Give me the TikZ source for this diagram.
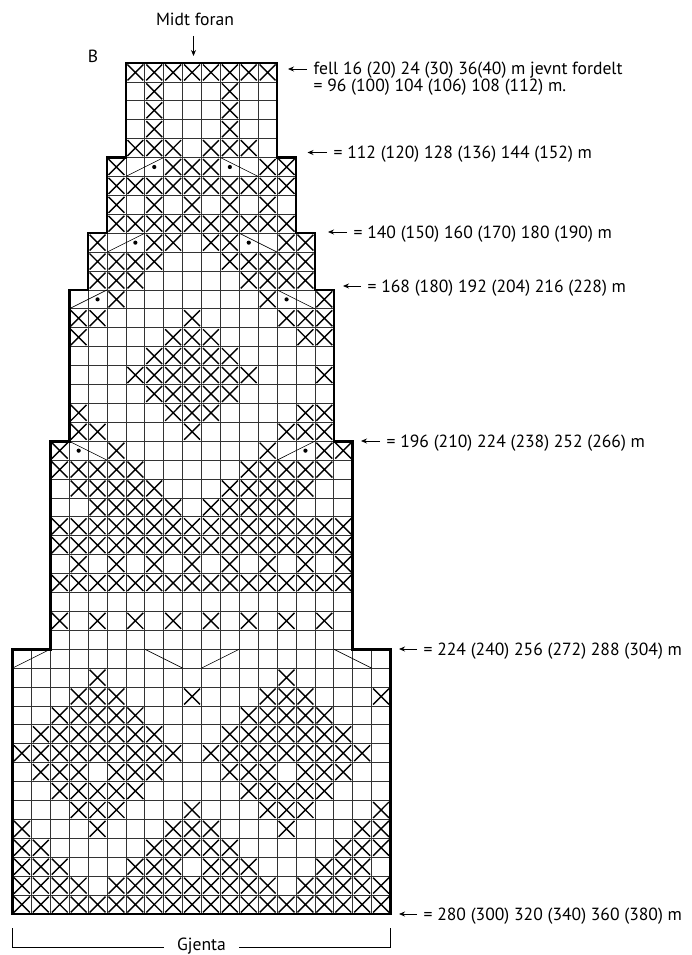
\documentclass[tikz,border=0pt]{standalone}
\usepackage{fontspec}
\setmainfont{PT Sans}
\usetikzlibrary{positioning,arrows.meta}
\begin{document}
\begin{tikzpicture}[
  x=1pt, y=-1pt,
  lbl/.style={anchor=west, font=\fontsize{17.6}{19}\selectfont, inner ysep=0pt, inner xsep=6.5pt, text height=14pt, text depth=2pt},
  gridln/.style={line width=0.8pt, black!80},
  outl/.style={line width=2.6pt, line join=miter},
  xmark/.style={line width=1.4pt},
  dec/.style={line width=0.6pt},
  arr/.style={-{Stealth[length=6pt,width=5pt]}, line width=0.8pt}]
\useasboundingbox (0,0) rectangle (691,955);
\begin{scope}[shift={(12.5,63)}, x=18.9pt, y=-18.91pt]
\foreach \ra/\rb/\ca/\cb in {0/5/6/14,5/9/5/15,9/12/4/16,12/20/3/17,20/31/2/18,31/45/0/20} {
  \foreach \rr in {\ra,...,\rb} \draw[gridln] (\ca,\rr) -- (\cb,\rr);
  \foreach \cc in {\ca,...,\cb} \draw[gridln] (\cc,\ra) -- (\cc,\rb);
}
\foreach \r/\cols in {
  0/{6,...,13},1/{7,11},2/{7,11},3/{7,11},4/{6,7,8,10,11,12},
  5/{5,8,9,10,13,14},6/{5,...,14},7/{5,7,9,11,13},8/{5,...,14},
  9/{4,7,8,10,11,14,15},10/{4,5,6,7,11,12,13,14,15},11/{4,5,6,12,13,14,15},
  12/{5,13,16},13/{3,4,9,14,15,16},14/{3,8,9,10,15,16},15/{7,...,11},
  16/{6,...,12,16},17/{7,...,11},18/{3,8,9,10,15,16},19/{3,4,9,14,15,16},
  20/{2,5,13,16,17},21/{2,3,4,5,6,12,13,14,15,16},22/{3,4,5,6,7,11,12,13,14,15},23/{4,5,6,7,8,10,11,12,13,14},
  24/{2,...,17},25/{2,...,17},26/{3,5,7,9,11,13,15,17},27/{2,...,17},
  29/{2,4,6,8,10,12,14,16},
  32/{4,14},33/{3,4,5,9,13,14,15,19},34/{2,3,4,5,6,12,13,14,15,16},35/{1,2,3,4,5,6,7,11,12,13,14,15,16,17},
  36/{0,1,2,3,4,5,6,7,8,10,11,12,13,14,15,16,17,18},37/{1,2,3,5,6,7,11,12,13,15,16,17},38/{2,3,4,5,6,12,13,14,15,16},
  39/{3,4,5,9,13,14,15,19},40/{0,4,8,9,10,14,18,19},41/{0,1,7,8,9,10,11,17,18,19},
  42/{0,1,2,6,7,8,10,11,12,16,17,18},43/{0,1,2,3,5,6,7,8,9,10,11,12,13,15,16,17,18,19},44/{0,...,19}}
  \foreach \c in \cols
    \draw[xmark] (\c+.08,\r+.08) -- (\c+.92,\r+.92) (\c+.92,\r+.08) -- (\c+.08,\r+.92);
\foreach \xa/\ya/\xb/\yb in {6/6/8/5,11/5/13/6,5/10/7/9,12/9/14/10,3/13/5/12,14/12/16/13,3/20/5/21,14/21/16/20,0/32/2/31,7/31/9/32,10/32/12/31,17/31/19/32}
  \draw[dec] (\xa,\ya) -- (\xb,\yb);
\foreach \c/\r in {7/5,11/5,6/9,12/9,4/12,14/12,3/20,15/20}
  \fill (\c+.5,\r+.5) circle (2.1pt);
\draw[outl] (6,0) -- (14,0) -- (14,5) -- (15,5) -- (15,9) -- (16,9) -- (16,12) -- (17,12) -- (17,20) -- (18,20) -- (18,31) -- (20,31) -- (20,45) -- (0,45) -- (0,31) -- (2,31) -- (2,20) -- (3,20) -- (3,12) -- (4,12) -- (4,9) -- (5,9) -- (5,5) -- (6,5) -- cycle;
\end{scope}
\node[lbl, anchor=center, inner xsep=0pt] (midt) at (195,20) {Midt foran};
\coordinate (midtTip) at (193.5,56);
\draw[arr] (193.5,36) -- (midtTip);
\node[lbl, anchor=center, inner xsep=0pt] (partB) at (93,57) {B};
\node[lbl] (lblA) at (307,69) {fell 16 (20) 24 (30) 36(40) m jevnt fordelt};
\node[lbl] (lblAb) at (307,86) {= 96 (100) 104 (106) 108 (112) m.};
\node[lbl] (lblB) at (327,152.5) {= 112 (120) 128 (136) 144 (152) m};
\node[lbl] (lblC) at (347,232) {= 140 (150) 160 (170) 180 (190) m};
\node[lbl] (lblD) at (361,286) {= 168 (180) 192 (204) 216 (228) m};
\node[lbl] (lblE) at (380,441) {= 196 (210) 224 (238) 252 (266) m};
\node[lbl] (lblF) at (417,649) {= 224 (240) 256 (272) 288 (304) m};
\node[lbl] (lblG) at (417,914) {= 280 (300) 320 (340) 360 (380) m};
\foreach \n/\x in {lblA/288,lblB/307.5,lblC/328,lblD/343,lblE/361,lblF/399,lblG/399} {
  \coordinate (\n Tip) at (\n.west -| \x,0);
  \draw[arr] (\n.west) -- (\n Tip);
}
\node[lbl, anchor=center, inner xsep=0pt, minimum width=75pt, text height=11pt, text depth=5pt] (gjenta) at (201.5,947) {Gjenta};
\coordinate (repL) at (12.7,928);
\coordinate (repR) at (390.5,928);
\draw[dec, line width=0.7pt] (gjenta.west) -| (repL);
\draw[dec, line width=0.7pt] (gjenta.east) -| (repR);
\end{tikzpicture}
\end{document}
